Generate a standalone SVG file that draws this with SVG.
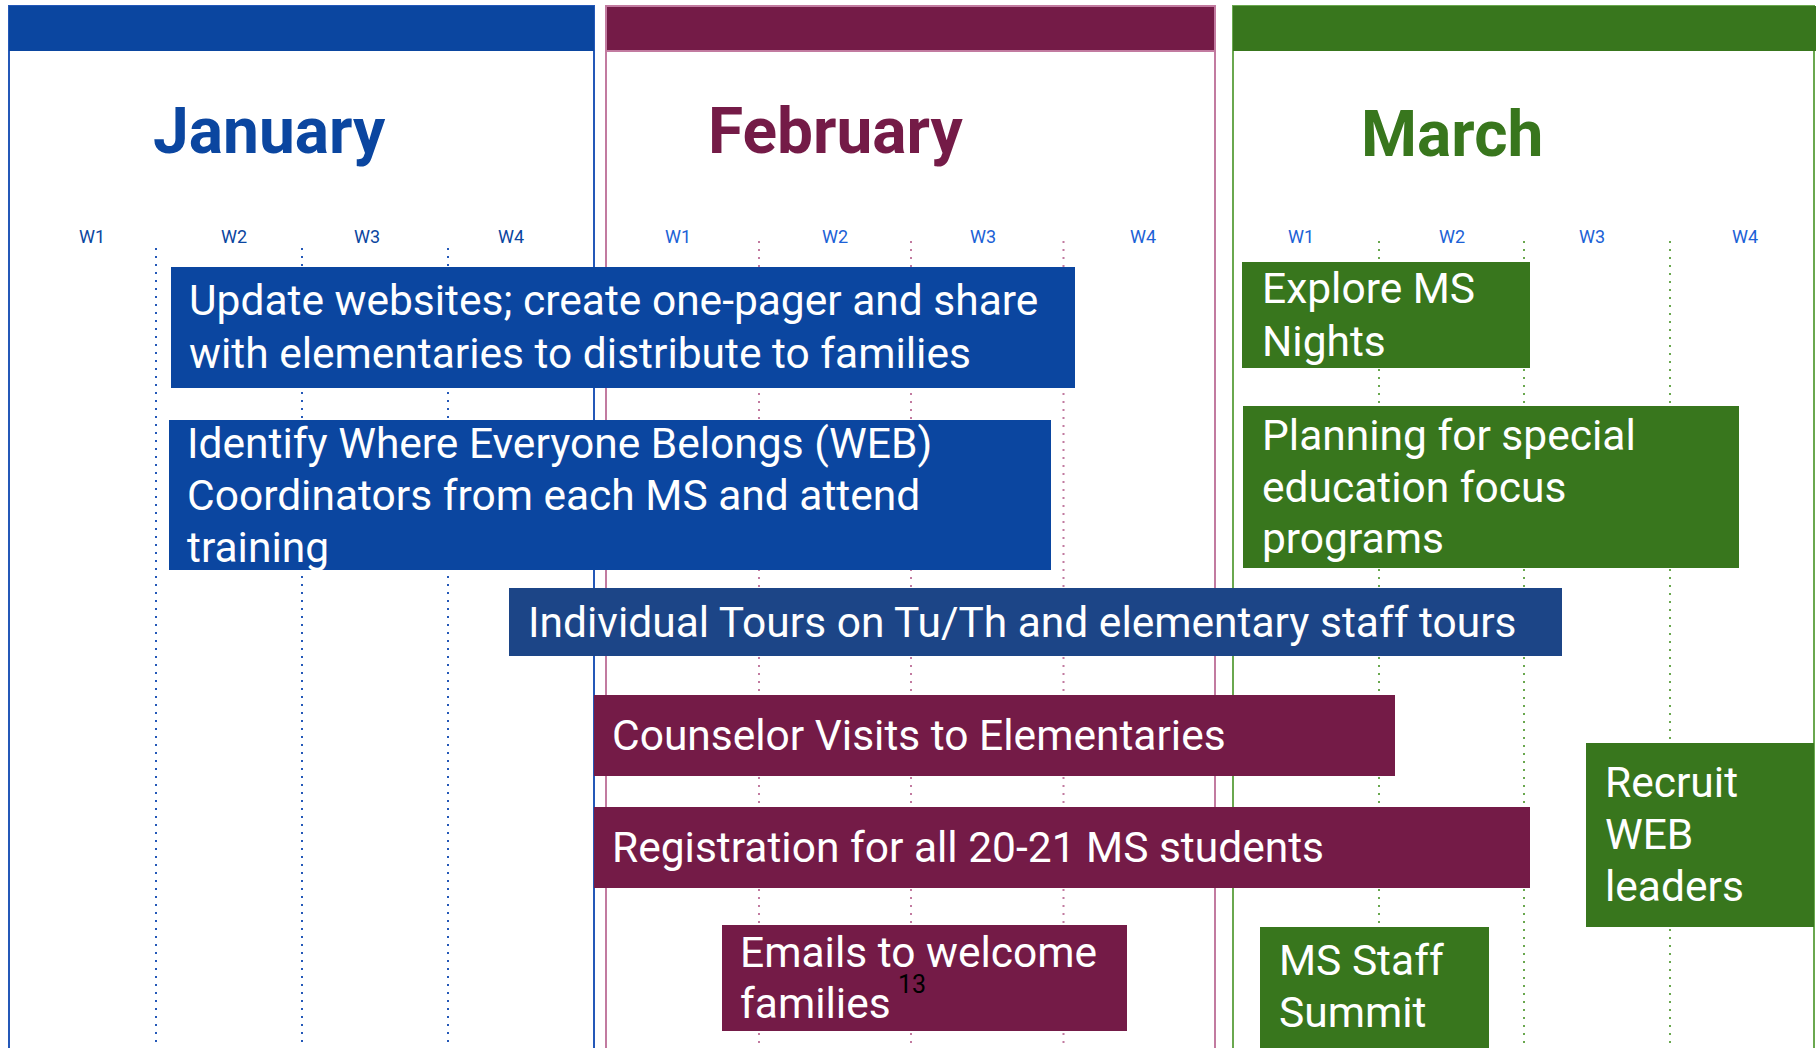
<svg xmlns="http://www.w3.org/2000/svg" width="1816" height="1048" viewBox="0 0 1816 1048">
<style>
  .month { font-family: Roboto, "Liberation Sans", sans-serif; font-weight: bold; font-size: 64px; }
  .wk { font-family: Roboto, "Liberation Sans", sans-serif; font-size: 18px; text-anchor: middle; }
  .task { font-family: Roboto, "Liberation Sans", sans-serif; font-size: 42.5px; fill: #ffffff; }
  .sup { font-family: Roboto, "Liberation Sans", sans-serif; font-size: 25px; fill: #000000; }
  .dot { stroke-width: 2; stroke-dasharray: 2 6; fill: none; }
  .blue { fill: #0b46a0; }
  .navy { fill: #1c4587; }
  .maroon { fill: #741b47; }
  .green { fill: #38761d; }
</style>
<rect x="0" y="0" width="1816" height="1048" fill="#ffffff"/>

<g id="panel-january">
  <rect x="9" y="6" width="585" height="1060" fill="#ffffff" stroke="#2458b8" stroke-width="2"/>
  <rect x="9" y="6" width="585" height="45" fill="#0b46a0"/>
  <text class="month" x="153" y="153" fill="#0b46a0">January</text>
  <g fill="#0b46a0" class="wk">
    <text x="92" y="243">W1</text>
    <text x="234" y="243">W2</text>
    <text x="367" y="243">W3</text>
    <text x="511" y="243">W4</text>
  </g>
  <g class="dot" stroke="#2458b8">
    <line x1="156" y1="248" x2="156" y2="1048"/>
    <line x1="302" y1="248" x2="302" y2="1048"/>
    <line x1="448" y1="248" x2="448" y2="1048"/>
  </g>
</g>

<g id="panel-february">
  <rect x="606" y="6" width="609" height="1060" fill="#ffffff" stroke="#c27ba0" stroke-width="2"/>
  <rect x="606" y="6" width="609" height="45" fill="#741b47" stroke="#c27ba0" stroke-width="2"/>
  <text class="month" x="708" y="153" fill="#741b47">February</text>
  <g fill="#1c61d6" class="wk">
    <text x="678" y="243">W1</text>
    <text x="835" y="243">W2</text>
    <text x="983" y="243">W3</text>
    <text x="1143" y="243">W4</text>
  </g>
  <g class="dot" stroke="#c27ba0">
    <line x1="759" y1="241" x2="759" y2="1048"/>
    <line x1="911" y1="241" x2="911" y2="1048"/>
    <line x1="1063.5" y1="241" x2="1063.5" y2="1048"/>
  </g>
</g>

<g id="panel-march">
  <rect x="1233" y="6" width="581" height="1060" fill="#ffffff" stroke="#6aa84f" stroke-width="2"/>
  <rect x="1233" y="6" width="583" height="45" fill="#38761d"/>
  <text class="month" x="1361" y="156" fill="#38761d">March</text>
  <g fill="#1c61d6" class="wk">
    <text x="1301" y="243">W1</text>
    <text x="1452" y="243">W2</text>
    <text x="1592" y="243">W3</text>
    <text x="1745" y="243">W4</text>
  </g>
  <g class="dot" stroke="#6aa84f">
    <line x1="1379" y1="241" x2="1379" y2="1048"/>
    <line x1="1524" y1="241" x2="1524" y2="1048"/>
    <line x1="1670" y1="241" x2="1670" y2="1048"/>
  </g>
</g>

<g id="connectors"></g>

<g id="task-update-websites">
  <rect class="blue" x="171" y="267" width="904" height="121"/>
  <text class="task" x="189" y="315">Update websites; create one-pager and share</text>
  <text class="task" x="189" y="368">with elementaries to distribute to families</text>
</g>

<g id="task-identify-web">
  <rect class="blue" x="169" y="420" width="882" height="150"/>
  <text class="task" x="187" y="458">Identify Where Everyone Belongs (WEB)</text>
  <text class="task" x="187" y="510">Coordinators from each MS and attend</text>
  <text class="task" x="187" y="562">training</text>
</g>

<g id="task-individual-tours">
  <rect class="navy" x="509" y="588" width="1053" height="68"/>
  <text class="task" x="528" y="637">Individual Tours on Tu/Th and elementary staff tours</text>
</g>

<g id="task-counselor-visits">
  <rect class="maroon" x="594" y="695" width="801" height="81"/>
  <text class="task" x="612" y="750">Counselor Visits to Elementaries</text>
</g>

<g id="task-registration">
  <rect class="maroon" x="594" y="807" width="936" height="81"/>
  <text class="task" x="612" y="862">Registration for all 20-21 MS students</text>
</g>

<g id="task-emails">
  <rect class="maroon" x="722" y="925" width="405" height="106"/>
  <text class="task" x="740" y="967">Emails to welcome</text>
  <text class="task" x="740" y="1018">families</text>
  <text class="sup" x="898" y="993">13</text>
</g>

<g id="task-explore-ms-nights">
  <rect class="green" x="1242" y="262" width="288" height="106"/>
  <text class="task" x="1262" y="303">Explore MS</text>
  <text class="task" x="1262" y="356">Nights</text>
</g>

<g id="task-planning-special-ed">
  <rect class="green" x="1243" y="406" width="496" height="162"/>
  <text class="task" x="1262" y="450">Planning for special</text>
  <text class="task" x="1262" y="502">education focus</text>
  <text class="task" x="1262" y="553">programs</text>
</g>

<g id="task-recruit-web-leaders">
  <rect class="green" x="1586" y="743" width="228" height="184"/>
  <text class="task" x="1605" y="797">Recruit</text>
  <text class="task" x="1605" y="849">WEB</text>
  <text class="task" x="1605" y="901">leaders</text>
</g>

<g id="task-ms-staff-summit">
  <rect class="green" x="1260" y="927" width="229" height="130"/>
  <text class="task" x="1279" y="975">MS Staff</text>
  <text class="task" x="1279" y="1027">Summit</text>
</g>
</svg>
